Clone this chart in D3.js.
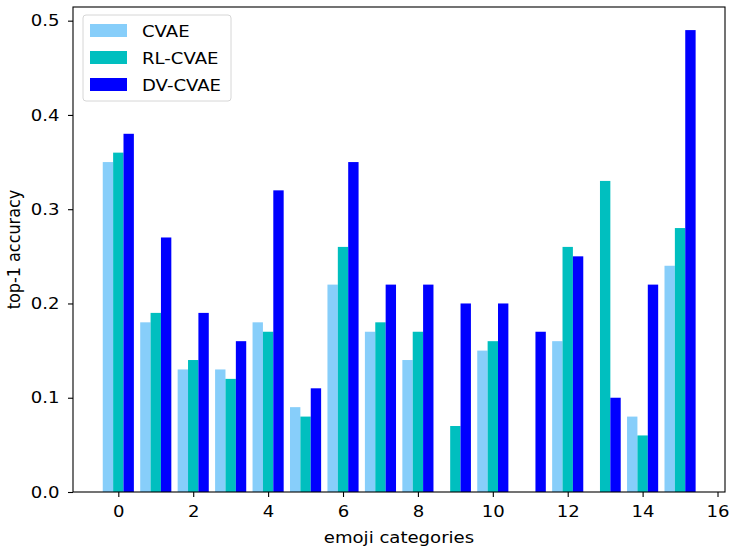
<!DOCTYPE html>
<html>
<head>
<meta charset="utf-8">
<script src="https://cdn.jsdelivr.net/npm/d3@7"></script>
<style>
  body { margin: 0; background: #fff; }
  svg { font-family: "DejaVu Sans", sans-serif; }
</style>
</head>
<body>
<div id="container"></div>
<script>
/* DATA */
const categories = d3.range(16);
const seriesNames = ["CVAE", "RL-CVAE", "DV-CVAE"];
const cvae   = [0.35, 0.18, 0.13, 0.13, 0.18, 0.09, 0.22, 0.17, 0.14, 0.00, 0.15, 0.00, 0.16, 0.00, 0.08, 0.24];
const rlCvae = [0.36, 0.19, 0.14, 0.12, 0.17, 0.08, 0.26, 0.18, 0.17, 0.07, 0.16, 0.00, 0.26, 0.33, 0.06, 0.28];
const dvCvae = [0.38, 0.27, 0.19, 0.16, 0.32, 0.11, 0.35, 0.22, 0.22, 0.20, 0.20, 0.17, 0.25, 0.10, 0.22, 0.49];
const xTicks = [0, 2, 4, 6, 8, 10, 12, 14, 16];
const yTicks = [0.0, 0.1, 0.2, 0.3, 0.4, 0.5];

/* CONSTANTS */
const width = 730;
const height = 550;
const margin = { left: 73, right: 5, top: 7, bottom: 58 };
const barW = 0.277;
const fontSize = "16px";
const stretch = 1.13; // text in the picture is a bit wider than tall
const colors = ["#87cefa", "#00bfbf", "#0000ff"];
const series = [cvae, rlCvae, dvCvae];

// widen text around its own x anchor
function widen(sel) {
  sel.each(function () {
    const x = +(this.getAttribute("x") || 0);
    this.setAttribute("transform", `translate(${x},0) scale(${stretch},1) translate(${-x},0)`);
  });
}

/* SCALES */
const xScale = d3.scaleLinear()
  .domain([-1.21, 16.2])
  .range([margin.left, width - margin.right]);

const yScale = d3.scaleLinear()
  .domain([0, 0.49 * 1.05])
  .range([height - margin.bottom, margin.top]);

/* SVG */
const svg = d3.select("#container")
  .append("svg")
  .attr("width", width)
  .attr("height", height);

// BARS
series.forEach((vals, si) => {
  svg.append("g")
    .selectAll("rect")
    .data(vals)
    .join("rect")
    .attr("x", (d, i) => xScale(categories[i] + (si - 1) * barW - barW / 2))
    .attr("width", xScale(barW) - xScale(0))
    .attr("y", d => yScale(d))
    .attr("height", d => yScale(0) - yScale(d))
    .attr("fill", colors[si]);
});

// AXES
const xAxisGroup = svg.append("g")
  .attr("transform", `translate(0, ${height - margin.bottom})`)
  .call(d3.axisBottom(xScale).tickValues(xTicks).tickSize(5).tickPadding(8.5).tickFormat(d3.format("d")));

const yAxisGroup = svg.append("g")
  .attr("transform", `translate(${margin.left}, 0)`)
  .call(d3.axisLeft(yScale).tickValues(yTicks).tickSize(5).tickPadding(8.5).tickFormat(d3.format(".1f")));

[xAxisGroup, yAxisGroup].forEach(g => {
  g.select(".domain").remove();
  g.selectAll("text").style("font-size", fontSize).attr("fill", "#000").style("font-family", "DejaVu Sans").call(widen);
  g.selectAll("line").attr("stroke", "#000").attr("stroke-width", 1.1);
});

// frame
svg.append("rect")
  .attr("x", margin.left)
  .attr("y", margin.top)
  .attr("width", width - margin.right - margin.left)
  .attr("height", height - margin.bottom - margin.top)
  .attr("fill", "none")
  .attr("stroke", "#000")
  .attr("stroke-width", 1.1);

// labels
svg.append("text")
  .attr("x", (margin.left + width - margin.right) / 2)
  .attr("y", 543.5)
  .attr("text-anchor", "middle")
  .style("font-size", fontSize)
  .text("emoji categories")
  .call(widen);

svg.append("text")
  .attr("transform", `translate(19.5, ${(margin.top + height - margin.bottom) / 2}) rotate(-90) scale(1, ${stretch})`)
  .attr("text-anchor", "middle")
  .style("font-size", fontSize)
  .text("top-1 accuracy");

// LEGEND
const legend = svg.append("g").attr("transform", "translate(83, 15)");
legend.append("rect")
  .attr("width", 148)
  .attr("height", 86)
  .attr("rx", 3)
  .attr("fill", "#fff")
  .attr("fill-opacity", 0.8)
  .attr("stroke", "#d6d6d6")
  .attr("stroke-width", 1);

seriesNames.forEach((name, i) => {
  legend.append("rect")
    .attr("x", 7)
    .attr("y", 9 + i * 27)
    .attr("width", 37)
    .attr("height", 13)
    .attr("fill", colors[i]);
  legend.append("text")
    .attr("x", 59)
    .attr("y", 21.7 + i * 27)
    .style("font-size", fontSize)
    .text(name)
    .call(widen);
});
</script>
</body>
</html>
